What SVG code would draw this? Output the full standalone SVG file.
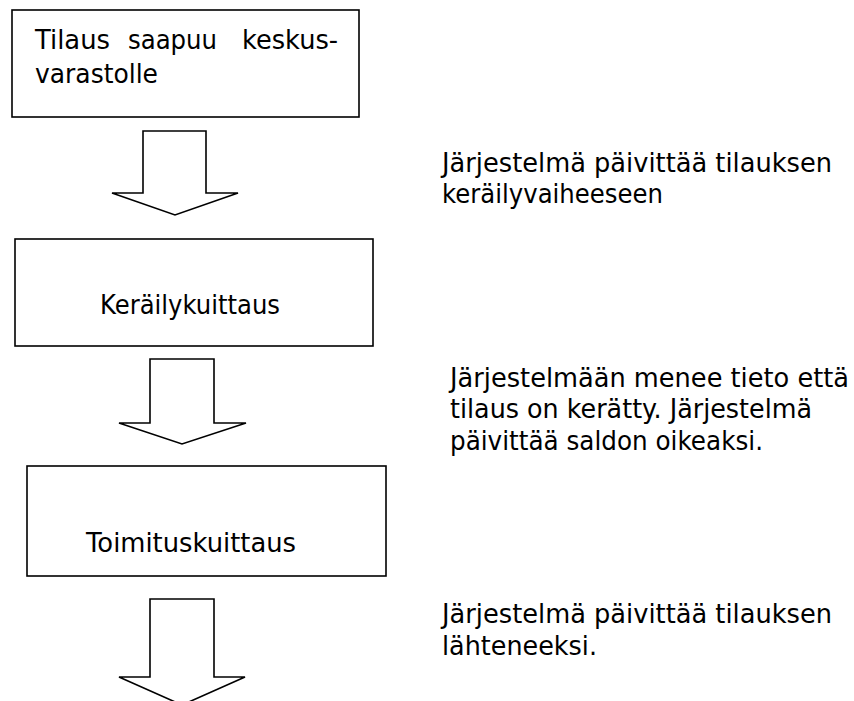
<svg xmlns="http://www.w3.org/2000/svg" width="854" height="701" viewBox="0 0 854 701">
  <style>
    .box { fill: #ffffff; stroke: #000000; stroke-width: 1.6; }
    .arrow { fill: #ffffff; stroke: #000000; stroke-width: 1.6; stroke-linejoin: miter; }
    .t { font-family: "DejaVu Sans", "Liberation Sans", sans-serif; font-size: 26px; fill: #000000; }
  </style>
  <rect width="854" height="701" fill="#ffffff"/>

  <!-- process steps -->
  <g id="step-order-arrives">
    <rect class="box" x="12" y="10" width="347" height="107"/>
    <!-- justified first line: words placed one by one -->
    <text class="t" x="35" y="49" textLength="75" lengthAdjust="spacingAndGlyphs">Tilaus</text>
    <text class="t" x="128" y="49" textLength="89" lengthAdjust="spacingAndGlyphs">saapuu</text>
    <text class="t" x="242" y="49" textLength="96" lengthAdjust="spacingAndGlyphs">keskus-</text>
    <text class="t" x="35" y="83" textLength="123" lengthAdjust="spacingAndGlyphs">varastolle</text>
  </g>

  <g id="step-picking">
    <rect class="box" x="15" y="239" width="358" height="107"/>
    <text class="t" x="100" y="314" textLength="180" lengthAdjust="spacingAndGlyphs">Keräilykuittaus</text>
  </g>

  <g id="step-delivery">
    <rect class="box" x="27" y="466" width="359" height="110"/>
    <text class="t" x="86" y="552" textLength="210" lengthAdjust="spacingAndGlyphs">Toimituskuittaus</text>
  </g>

  <!-- block arrows between steps -->
  <g id="connectors">
    <polygon class="arrow" points="143,131 206,131 206,193 238,193 175,215 112,193 143,193"/>
    <polygon class="arrow" points="150,359 214,359 214,423 246,423 182,444 119,423 150,423"/>
    <polygon class="arrow" points="150,599 214,599 214,677 245,677 182,705 119,677 150,677"/>
  </g>

  <!-- system notes -->
  <g id="note-1">
    <text class="t" x="442" y="172" textLength="390" lengthAdjust="spacingAndGlyphs">Järjestelmä päivittää tilauksen</text>
    <text class="t" x="442" y="203" textLength="221" lengthAdjust="spacingAndGlyphs">keräilyvaiheeseen</text>
  </g>

  <g id="note-2">
    <text class="t" x="450" y="387" textLength="399" lengthAdjust="spacingAndGlyphs">Järjestelmään menee tieto että</text>
    <text class="t" x="450" y="418" textLength="362" lengthAdjust="spacingAndGlyphs">tilaus on kerätty. Järjestelmä</text>
    <text class="t" x="450" y="450" textLength="313" lengthAdjust="spacingAndGlyphs">päivittää saldon oikeaksi.</text>
  </g>

  <g id="note-3">
    <text class="t" x="442" y="623" textLength="390" lengthAdjust="spacingAndGlyphs">Järjestelmä päivittää tilauksen</text>
    <text class="t" x="442" y="655" textLength="155" lengthAdjust="spacingAndGlyphs">lähteneeksi.</text>
  </g>
</svg>
